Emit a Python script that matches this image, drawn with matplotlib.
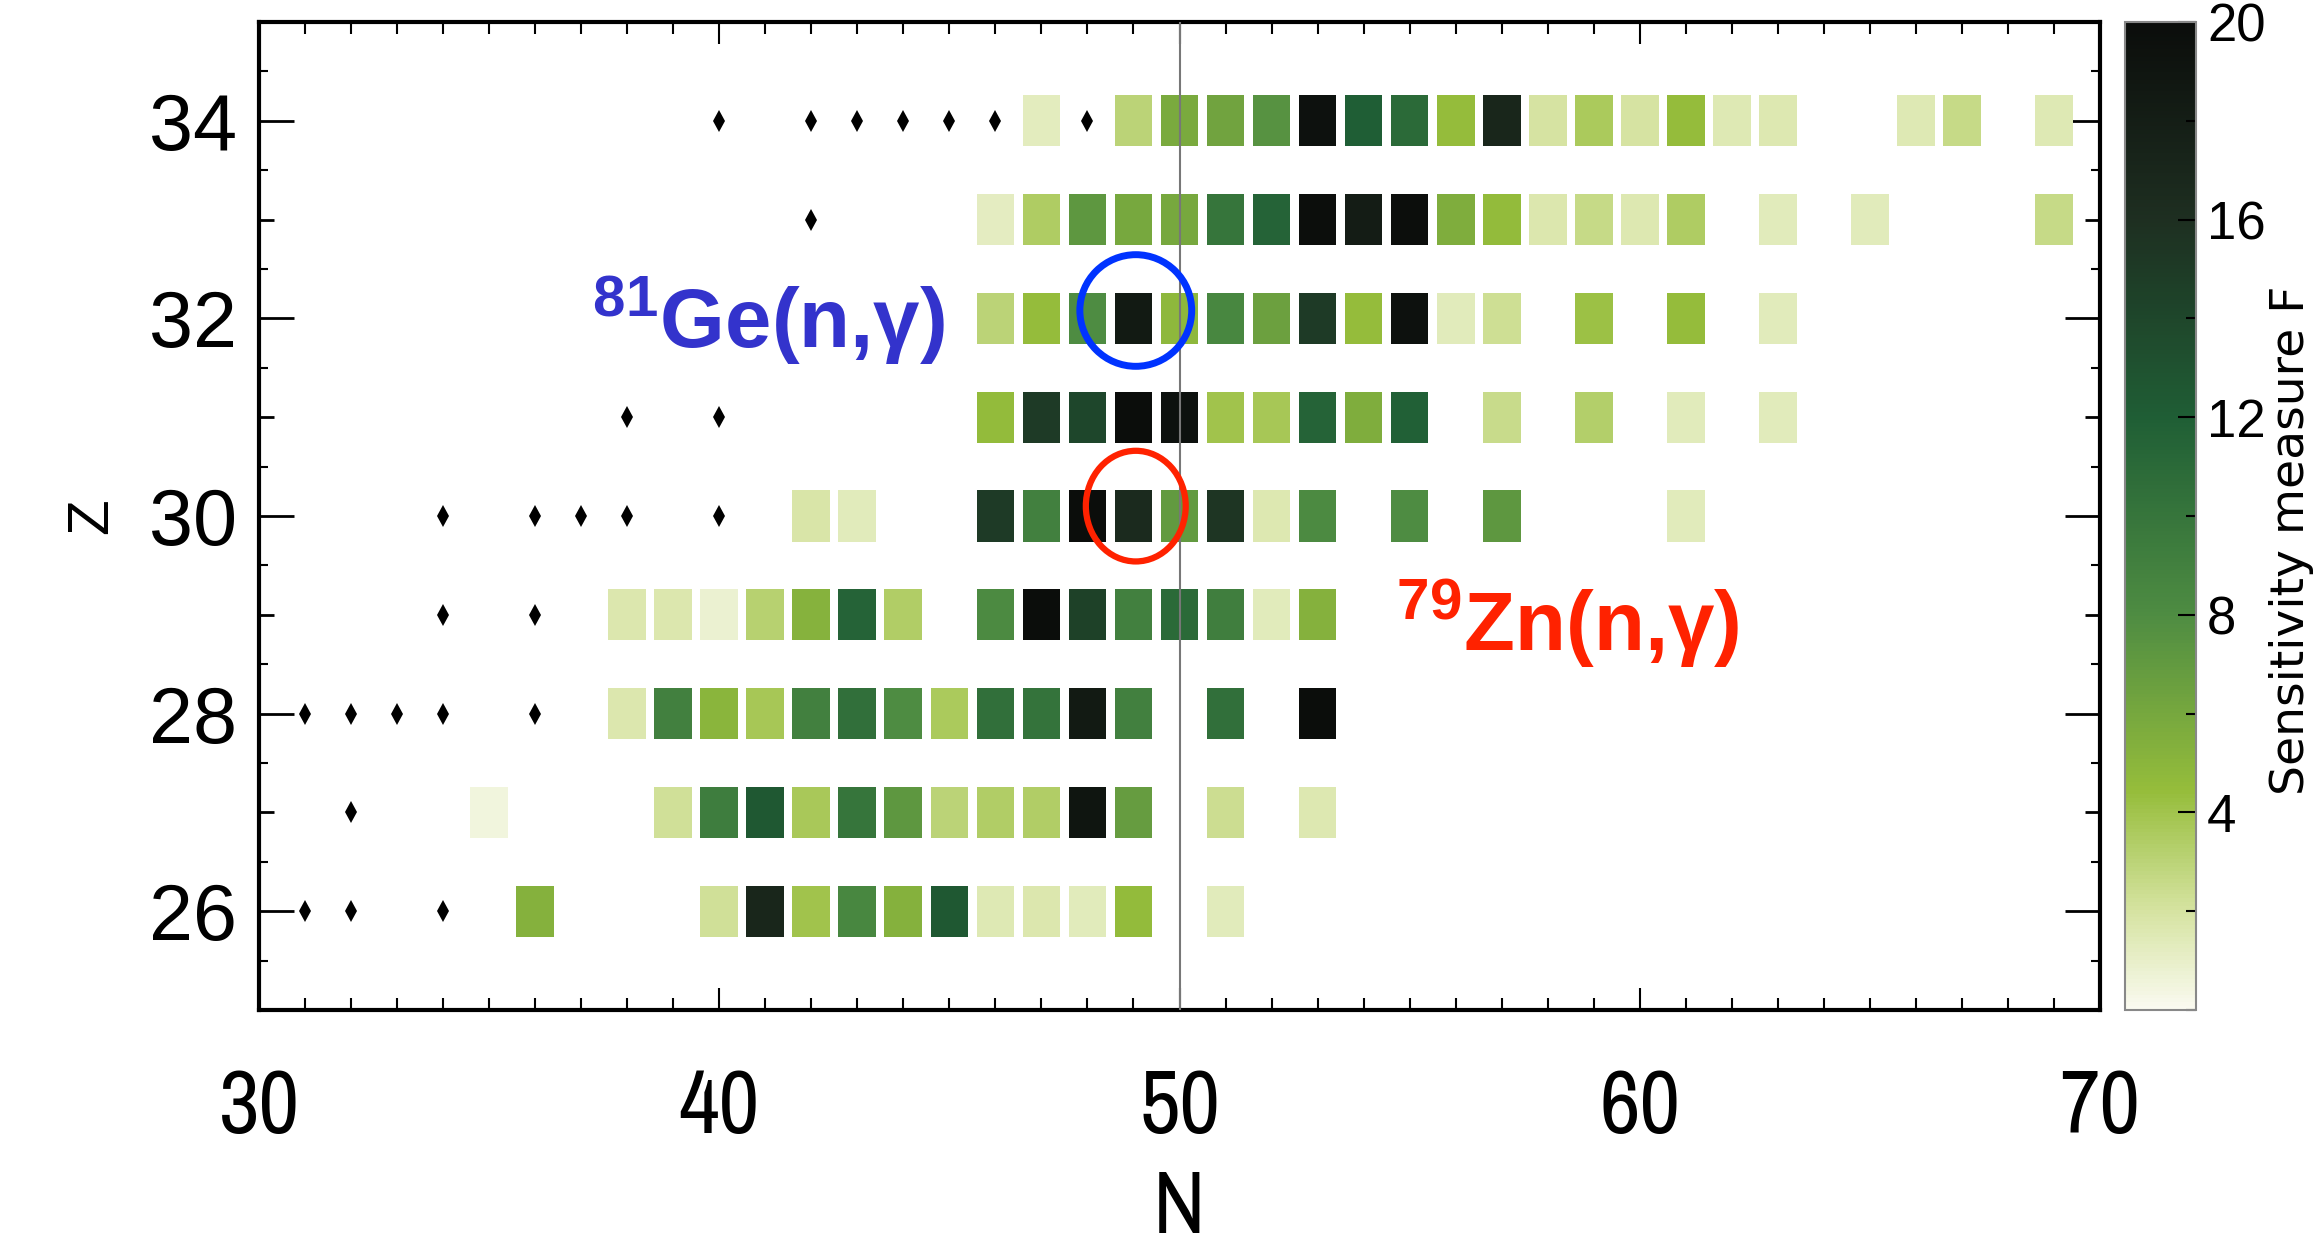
import numpy as np
import matplotlib.pyplot as plt
from matplotlib import font_manager
from matplotlib.colors import LinearSegmentedColormap, Normalize
from matplotlib.patches import Ellipse
from matplotlib.ticker import MultipleLocator
import matplotlib.cm as cm

# sensitivity F of each (N, Z) square, row by row
n_34 = [47, 49, 50, 51, 52, 53, 54, 55, 56, 57, 58, 59, 60, 61, 62, 63, 66, 67, 69]
f_34 = [1.3, 3.0, 5.8, 6.3, 7.5, 19.5, 12.0, 11.0, 4.5, 17.0, 2.0, 3.6, 2.0, 4.5, 1.5, 1.6, 1.5, 2.6, 1.5]
n_33 = [46, 47, 48, 49, 50, 51, 52, 53, 54, 55, 56, 57, 58, 59, 60, 61, 63, 65, 69]
f_33 = [1.2, 3.5, 7.2, 6.0, 6.0, 10.0, 11.5, 19.8, 18.2, 19.8, 5.6, 4.6, 1.7, 2.6, 1.6, 3.5, 1.4, 1.4, 2.6]
n_32 = [46, 47, 48, 49, 50, 51, 52, 53, 54, 55, 56, 57, 59, 61, 63]
f_32 = [3.0, 4.5, 8.0, 18.5, 4.8, 8.5, 6.5, 15.0, 4.5, 19.5, 1.4, 2.3, 4.2, 4.5, 1.4]
n_31 = [46, 47, 48, 49, 50, 51, 52, 53, 54, 55, 57, 59, 61, 63]
f_31 = [4.6, 15.0, 14.0, 20.0, 19.5, 4.0, 3.8, 11.5, 5.6, 11.8, 2.5, 3.3, 1.4, 1.4]
n_30 = [42, 43, 46, 47, 48, 49, 50, 51, 52, 53, 55, 57, 61]
f_30 = [1.8, 1.4, 15.0, 9.0, 20.0, 16.5, 7.0, 15.5, 1.6, 8.2, 8.0, 7.2, 1.4]
n_29 = [38, 39, 40, 41, 42, 43, 44, 46, 47, 48, 49, 50, 51, 52, 53]
f_29 = [1.7, 1.7, 0.8, 3.2, 5.2, 11.5, 3.4, 8.2, 20.0, 14.5, 9.0, 11.0, 9.2, 1.4, 5.3]
n_28 = [38, 39, 40, 41, 42, 43, 44, 45, 46, 47, 48, 49, 51, 53]
f_28 = [1.7, 9.0, 5.0, 3.8, 9.0, 10.5, 8.0, 3.6, 10.5, 10.2, 18.5, 9.0, 10.5, 20.0]
n_27 = [35, 39, 40, 41, 42, 43, 44, 45, 46, 47, 48, 49, 51, 53]
f_27 = [0.5, 2.2, 9.3, 12.5, 3.7, 10.0, 7.2, 3.0, 3.4, 3.4, 19.0, 6.8, 2.4, 1.6]
n_26 = [36, 40, 41, 42, 43, 44, 45, 46, 47, 48, 49, 51]
f_26 = [5.3, 2.2, 17.0, 4.0, 8.5, 5.3, 12.5, 1.5, 1.7, 1.4, 4.6, 1.4]

z_rows = [34, 33, 32, 31, 30, 29, 28, 27, 26]
n_rows = [n_34, n_33, n_32, n_31, n_30, n_29, n_28, n_27, n_26]
f_rows = [f_34, f_33, f_32, f_31, f_30, f_29, f_28, f_27, f_26]

# small black markers
dot_n = [40, 42, 43, 44, 45, 46, 48, 42, 38, 40, 34, 36, 37, 38, 40, 34, 36, 31, 32, 33, 34, 36, 32, 31, 32, 34]
dot_z = [34, 34, 34, 34, 34, 34, 34, 33, 31, 31, 30, 30, 30, 30, 30, 29, 29, 28, 28, 28, 28, 28, 27, 26, 26, 26]

x_ticks = [30, 40, 50, 60, 70]
y_ticks = [25, 26, 27, 28, 29, 30, 31, 32, 33, 34, 35]
y_labels = ['', '26', '', '28', '', '30', '', '32', '', '34', '']
cb_ticks = [4, 8, 12, 16, 20]

plt.rcParams['mathtext.fontset'] = 'custom'
plt.rcParams['mathtext.bf'] = 'Liberation Sans:bold'
plt.rcParams['mathtext.rm'] = 'Liberation Sans'
plt.rcParams['mathtext.default'] = 'bf'

# pick a narrow face for the N axis if one is installed
narrow = None
for f in font_manager.fontManager.ttflist:
    if 'Narrow' in f.name or 'Condensed' in f.name:
        narrow = dict(family=f.name)
        break
if narrow is None:
    for f in font_manager.fontManager.ttflist:
        if 'condensed' in str(f.stretch) and 'Mono' not in f.name:
            narrow = dict(family=f.name, fontstretch=f.stretch)
            break
if narrow is None:
    narrow = dict(family='Liberation Sans')
    x_size = 54
else:
    x_size = 64
narrow['fontweight'] = 'light'

cmap = LinearSegmentedColormap.from_list('sens', [
    (0.0, '#fafaf0'), (0.1, '#d5e3a0'), (0.22, '#96bd3b'), (0.4, '#4e8c42'),
    (0.6, '#1f5e35'), (0.8, '#1e2f21'), (1.0, '#0b0d0b')])
norm = Normalize(0, 20)

W, H = 2319, 1244
fig = plt.figure(figsize=(W/100, H/100), dpi=100)
ax = fig.add_axes([259/W, 1 - 1010/H, (2100 - 259)/W, 988/H])

for z, ns, fs in zip(z_rows, n_rows, f_rows):
    ax.bar(ns, 0.52, width=0.82, bottom=z - 0.26, color=cmap(norm(np.array(fs))), zorder=2)

ax.plot(dot_n, dot_z, 'd', color='k', ms=11, mew=0, zorder=3)
ax.axvline(50, color='#777777', lw=1.5, zorder=4)

ax.set(xlim=(30, 70), ylim=(25, 35))
for s in ax.spines.values():
    s.set_linewidth(3)

ax.set_xticks(x_ticks)
ax.set_xticklabels([str(t) for t in x_ticks], fontsize=x_size, **narrow)
ax.xaxis.set_minor_locator(MultipleLocator(1))
ax.set_yticks(y_ticks)
ax.set_yticklabels(y_labels, fontsize=57, family='Liberation Sans')
ax.yaxis.set_minor_locator(MultipleLocator(0.5))
ax.tick_params(axis='x', which='major', direction='in', top=True, length=16, width=1.5, pad=42)
ax.tick_params(axis='x', which='minor', direction='in', top=True, length=8.5, width=1.5)
ax.tick_params(axis='y', which='major', direction='in', right=True, length=25, width=2, pad=16)
ax.tick_params(axis='y', which='minor', direction='in', right=True, length=6.5, width=1.5)
# odd Z ticks are shorter
for t, lab in zip(ax.yaxis.get_major_ticks(), y_labels):
    if lab == '':
        t.tick1line.set_markersize(11)
        t.tick2line.set_markersize(11)

ax.set_xlabel('N', fontsize=x_size, labelpad=14, **narrow)
ax.set_ylabel('Z', fontsize=42, family='Liberation Sans', labelpad=21)

# highlighted reactions
ax.add_patch(Ellipse((49.05, 32.08), 2.43, 1.13, fill=False, ec='#0033ff', lw=5, zorder=5))
ax.add_patch(Ellipse((49.05, 30.1), 2.17, 1.12, fill=False, ec='#ff2200', lw=4.5, zorder=5))
ax.text(37.24, 31.7, r'$^{81}$Ge(n,γ)', color='#3333cc', fontsize=60, fontweight='bold',
        family='Liberation Sans', va='baseline', zorder=6)
ax.text(54.7, 28.63, r'$^{79}$Zn(n,γ)', color='#ff2200', fontsize=60, fontweight='bold',
        family='Liberation Sans', va='baseline', zorder=6)

cax = fig.add_axes([2125/W, 1 - 1010/H, 71/W, 988/H])
cb = fig.colorbar(cm.ScalarMappable(norm=norm, cmap=cmap), cax=cax, ticks=cb_ticks)
cb.ax.yaxis.set_minor_locator(MultipleLocator(2))
cb.ax.tick_params(which='major', direction='in', length=13, width=1.5, labelsize=38, pad=8)
cb.ax.tick_params(which='minor', direction='in', length=7, width=1.5)
for lab in cb.ax.get_yticklabels():
    lab.set_family('Liberation Sans')
cb.outline.set_edgecolor('#888888')
cb.outline.set_linewidth(1.5)
cb.set_label('Sensitivity measure F', fontsize=34, family='DejaVu Sans')
cb.ax.yaxis.set_label_coords(2.03, 0.475)

fig.savefig('out.png', dpi=100)
